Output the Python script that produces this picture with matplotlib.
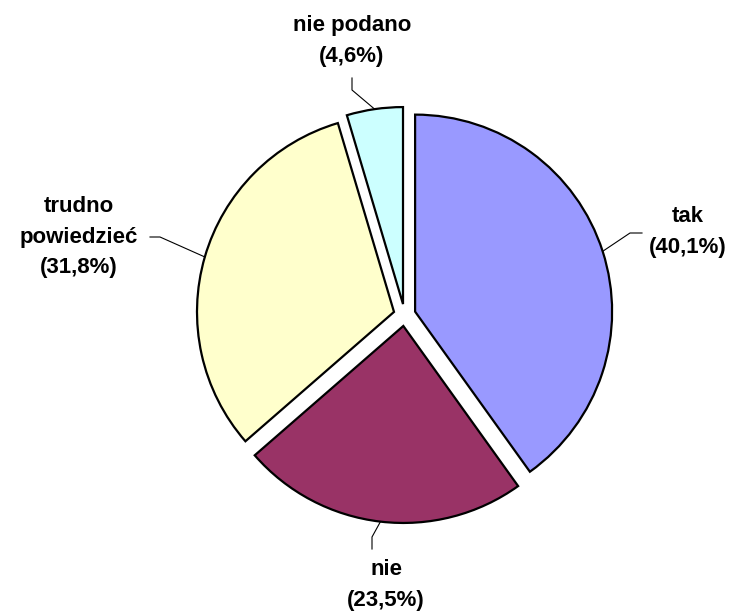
import numpy as np
import matplotlib
matplotlib.use("Agg")
import matplotlib.pyplot as plt

# Dane
labels = ["tak", "nie", "trudno\npowiedzieć", "nie podano"]
shares = [40.1, 23.5, 31.8, 4.6]
colors = ["#9999FF", "#993366", "#FFFFCC", "#CCFFFF"]

# Układ (piksele obrazu)
W, H = 729, 615
CX, CY, R = 404.6, 315.0, 197.0
EXPLODE = 0.056
# pozycja tekstu, punkt załamania linii, koniec linii
label_pos = [(688, 232), (386, 585), (79, 237), (352, 41)]
elbow = [(630, 233), (372, 537), (160, 237), (352, 90)]
line_end = [(642, 233), (372, 549), (150, 237), (352, 78)]


def px(x, y):
    """Piksele -> współrzędne osi (promień koła = 1)."""
    return (x - CX) / R, (CY - y) / R


fig = plt.figure(figsize=(W / 100, H / 100), dpi=100)
ax = fig.add_axes([0, 0, 1, 1])
ax.axis("off")

wedges, _ = ax.pie(
    shares,
    colors=colors,
    startangle=90,
    counterclock=False,
    explode=[EXPLODE] * len(shares),
    radius=1,
    wedgeprops=dict(edgecolor="black", linewidth=1.6),
    center=(0, 0),
)
ax.set_xlim(-CX / R, (W - CX) / R)
ax.set_ylim(-(H - CY) / R, CY / R)
ax.set_aspect("auto")

for w, lab, val, pos, el, le in zip(wedges, labels, shares, label_pos, elbow, line_end):
    mid = np.deg2rad((w.theta1 + w.theta2) / 2)
    d = np.array([np.cos(mid), np.sin(mid)])
    start = d * (EXPLODE + 1.0)
    ex, ey = px(*el)
    lx, ly = px(*le)
    ax.plot([start[0], ex, lx], [start[1], ey, ly], color="black", lw=0.8)
    tx, ty = px(*pos)
    txt = f"{lab}\n({val:.1f}%)".replace(".", ",")
    ax.text(tx, ty, txt, ha="center", va="center", fontsize=16,
            fontweight="bold", family="Liberation Sans", linespacing=1.6)

fig.savefig("out.png", dpi=100)
